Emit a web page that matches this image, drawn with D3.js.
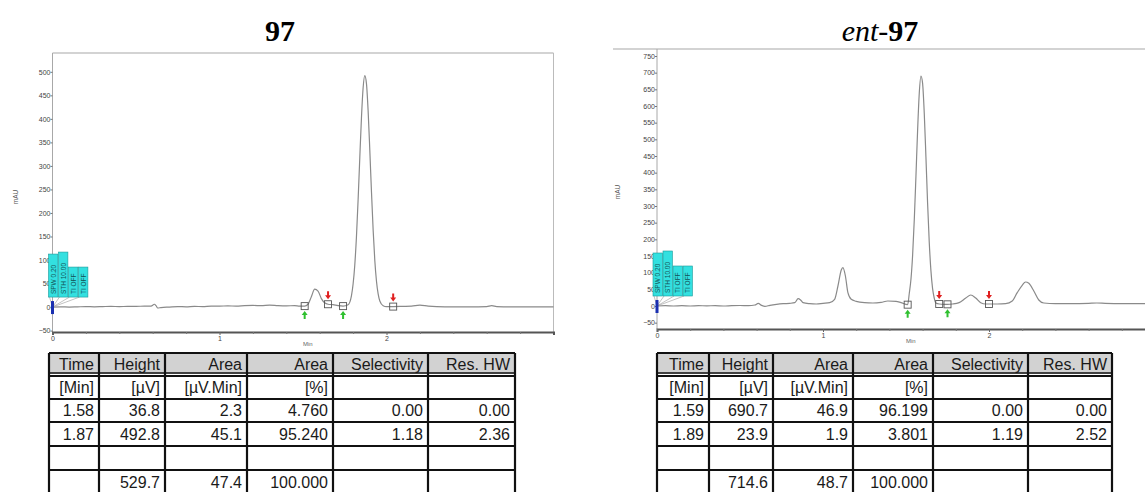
<!DOCTYPE html>
<html>
<head>
<meta charset="utf-8">
<script src="https://cdn.jsdelivr.net/npm/d3@7"></script>
<style>
  body { margin: 0; background: #fff; }
  svg { display: block; font-family: "Liberation Sans", Arial, sans-serif; }
</style>
</head>
<body>
<div id="chart"></div>
<script>
// ---- chromatogram 97 (left) ----
const timeA = [0, 0.05, 0.10, 0.15, 0.20, 0.25, 0.30, 0.35, 0.40, 0.45, 0.50, 0.55, 0.59, 0.61, 0.62, 0.63, 0.65, 0.70,
  0.75, 0.80, 0.85, 0.90, 0.95, 1.00, 1.05, 1.10, 1.15, 1.20, 1.25, 1.30, 1.35, 1.40, 1.45, 1.48, 1.51, 1.53, 1.55,
  1.57, 1.59, 1.61, 1.63, 1.65, 1.68, 1.71, 1.74, 1.77, 1.79, 1.80, 1.81, 1.82, 1.83, 1.84, 1.85, 1.86, 1.87, 1.88,
  1.89, 1.90, 1.91, 1.92, 1.93, 1.94, 1.95, 1.96, 1.98, 2.00, 2.04, 2.10, 2.15, 2.20, 2.25, 2.30, 2.40, 2.50, 2.60,
  2.63, 2.66, 2.75, 2.85, 3.00];
const signalA = [0, 0.5, 0, 0.5, 1, 0.5, 1, 1.5, 1, 1.5, 1.5, 2, 2, 6, 3, -2, -1, 0,
  1, 0.5, 1.5, 1, 2, 2, 2.5, 2, 3, 3.5, 3, 4, 3, 2.5, 3, 2, 2, 6, 22,
  38, 34, 18, 9, 6, 5, 3, 2, 5, 24, 49, 89, 149, 228, 317, 402, 466, 492, 475,
  417, 334, 245, 164, 99, 55, 28, 13, 3, 1, 1, 1.5, 2, 4, 2, 1, 0.5, 0.5, 1,
  3, 1, 0.5, 0.5, 0.5];
const yTicksA = [-50, 0, 50, 100, 150, 200, 250, 300, 350, 400, 450, 500];
const markTimesA = [1.51, 1.65, 1.74, 2.04];
const markLevelsA = [2, 6, 2, 1];
const markKindsA = ["start", "end", "start", "end"];

// ---- chromatogram ent-97 (right) ----
const timeB = [0, 0.05, 0.10, 0.15, 0.20, 0.25, 0.30, 0.35, 0.40, 0.45, 0.50, 0.55, 0.59, 0.61, 0.63, 0.65, 0.68, 0.72,
  0.76, 0.80, 0.83, 0.85, 0.865, 0.88, 0.92, 0.96, 1.00, 1.04, 1.07, 1.09, 1.11, 1.12, 1.135, 1.15, 1.17, 1.20, 1.25,
  1.30, 1.35, 1.39, 1.44, 1.47, 1.51, 1.52, 1.53, 1.54, 1.55, 1.56, 1.57, 1.58, 1.59, 1.60, 1.61, 1.62, 1.63, 1.64,
  1.65, 1.66, 1.67, 1.68, 1.70, 1.73, 1.75, 1.78, 1.82, 1.86, 1.89, 1.92, 1.95, 1.98, 2.00, 2.05, 2.10, 2.14, 2.17,
  2.20, 2.22, 2.24, 2.27, 2.30, 2.33, 2.40, 2.50, 2.60, 2.65, 2.70, 2.80, 2.90, 3.00];
const signalB = [0, 1, 0, 1, 0, 1, 0.5, 1, 0, 1, 1.5, 1, 3, 8, 2, -1, 2, 5,
  7, 8, 10, 22, 18, 10, 7, 6, 8, 10, 20, 60, 108, 115, 90, 40, 20, 14, 10,
  9, 11, 15, 14, 10, 4, 39, 81, 154, 260, 391, 528, 639, 690, 668, 578, 448, 310, 192,
  107, 53, 24, 9, 6, 5, 5, 6, 10, 24, 33, 24, 10, 6, 6, 6, 7, 15, 40,
  62, 72, 68, 45, 18, 9, 7, 7, 8, 9, 8, 7, 7, 7];
const yTicksB = [-50, 0, 50, 100, 150, 200, 250, 300, 350, 400, 450, 500, 550, 600, 650, 700, 750];
const markTimesB = [1.51, 1.70, 1.75, 2.00];
const markLevelsB = [4, 6, 5, 6];
const markKindsB = ["start", "end", "start", "end"];

const xTicks = [0, 1, 2];
const xMinorTicks = [0.2, 0.4, 0.6, 0.8, 1.2, 1.4, 1.6, 1.8, 2.2, 2.4, 2.6, 2.8];
const flagLabels = ["SPW 0.20", "STH 10.00", "TI OFF", "TI OFF"];
const flagHeights = [43, 45, 30, 30];

// ---- result tables ----
const tableHead = ["Time", "Height", "Area", "Area", "Selectivity", "Res. HW"];
const tableUnits = ["[Min]", "[µV]", "[µV.Min]", "[%]", "", ""];
const rowsA = [
  ["1.58", "36.8", "2.3", "4.760", "0.00", "0.00"],
  ["1.87", "492.8", "45.1", "95.240", "1.18", "2.36"],
  ["", "", "", "", "", ""],
  ["", "529.7", "47.4", "100.000", "", ""]
];
const rowsB = [
  ["1.59", "690.7", "46.9", "96.199", "0.00", "0.00"],
  ["1.89", "23.9", "1.9", "3.801", "1.19", "2.52"],
  ["", "", "", "", "", ""],
  ["", "714.6", "48.7", "100.000", "", ""]
];

const W = 1145, H = 492;
const svg = d3.select("#chart").append("svg")
  .attr("width", W)
  .attr("height", H);

const drawPanel = (p) => {
  const x = d3.scaleLinear().domain([0, 3]).range([p.left, p.right]);
  const y = d3.scaleLinear().domain(p.yDomain).range([p.bottom, p.top]);
  const g = svg.append("g");

  // frame
  g.append("line").attr("x1", p.topFrom).attr("x2", Math.min(p.right, W)).attr("y1", p.top).attr("y2", p.top)
    .attr("stroke", "#a8a8a8").attr("stroke-width", 1.2);
  g.append("line").attr("x1", p.left).attr("x2", p.left).attr("y1", p.top).attr("y2", p.bottom)
    .attr("stroke", "#a8a8a8").attr("stroke-width", 1);
  if (p.right < W) {
    g.append("line").attr("x1", p.right).attr("x2", p.right).attr("y1", p.top).attr("y2", p.bottom)
      .attr("stroke", "#bbb").attr("stroke-width", 1);
  }

  // y axis
  const ya = g.append("g").attr("transform", `translate(${p.left},0)`)
    .call(d3.axisLeft(y).tickValues(p.yTicks).tickSize(2).tickPadding(0));
  ya.select(".domain").remove();
  ya.selectAll("line").attr("stroke", "#777");
  ya.selectAll("text").attr("font-size", 7).attr("fill", "#444").attr("font-family", "Liberation Sans, Arial");

  // x axis
  const xa = g.append("g").attr("transform", `translate(0,${p.bottom})`)
    .call(d3.axisBottom(x).tickValues(xTicks).tickSize(3).tickPadding(1).tickFormat(d3.format("d")));
  xa.select(".domain").attr("stroke", "#555").attr("stroke-width", 2);
  xa.selectAll("line").attr("stroke", "#666");
  xa.selectAll("text").attr("font-size", 7).attr("fill", "#444").attr("font-family", "Liberation Sans, Arial");
  const xm = g.append("g").attr("transform", `translate(0,${p.bottom})`)
    .call(d3.axisBottom(x).tickValues(xMinorTicks).tickSize(2).tickFormat(""));
  xm.select(".domain").remove();
  xm.selectAll("line").attr("stroke", "#777");

  g.append("text").attr("x", x(1.5)).attr("y", p.bottom + 14)
    .attr("font-size", 6).attr("fill", "#666").text("Min");
  g.append("text")
    .attr("transform", `translate(${p.labelX},${p.labelY}) rotate(-90)`)
    .attr("text-anchor", "middle").attr("font-size", 6.5).attr("fill", "#555").text("mAU");

  // trace
  const line = d3.line().x(d => x(d[0])).y(d => y(d[1])).curve(d3.curveMonotoneX);
  g.append("path").datum(d3.zip(p.time, p.signal))
    .attr("d", line).attr("fill", "none")
    .attr("stroke", "#8a8a8a").attr("stroke-width", 1.2);

  // integration markers
  p.markTimes.forEach((t, i) => {
    const mx = x(t), my = y(p.markLevels[i]);
    g.append("rect").attr("x", mx - 3.5).attr("y", my - 3.5).attr("width", 7).attr("height", 7)
      .attr("fill", "none").attr("stroke", "#555").attr("stroke-width", 0.9);
    if (p.markKinds[i] === "start") {
      g.append("path")
        .attr("d", `M${mx},${my + 5} L${mx - 3},${my + 9} L${mx - 1},${my + 9} L${mx - 1},${my + 13} L${mx + 1},${my + 13} L${mx + 1},${my + 9} L${mx + 3},${my + 9} Z`)
        .attr("fill", "#2fc02f");
    } else {
      g.append("path")
        .attr("d", `M${mx},${my - 5} L${mx - 3},${my - 9} L${mx - 1},${my - 9} L${mx - 1},${my - 13} L${mx + 1},${my - 13} L${mx + 1},${my - 9} L${mx + 3},${my - 9} Z`)
        .attr("fill", "#e02020");
    }
  });

  // parameter flags at the start of the run
  const ox = x(0), oy = y(0);
  flagLabels.forEach((lab, i) => {
    const bx = ox - 4 + i * 10, bb = oy - 10, bh = flagHeights[i];
    g.append("line").attr("x1", bx + 1).attr("y1", bb).attr("x2", ox).attr("y2", oy)
      .attr("stroke", "#999").attr("stroke-width", 0.6);
    g.append("rect").attr("x", bx).attr("y", bb - bh).attr("width", 9.4).attr("height", bh)
      .attr("fill", "#33e0e0").attr("stroke", "#1a9a9a").attr("stroke-width", 0.6);
    g.append("text")
      .attr("transform", `translate(${bx + 7.2},${bb - 3}) rotate(-90)`)
      .attr("font-size", 6.5).attr("fill", "#135356").text(lab);
  });
  g.append("rect").attr("x", ox - 1.5).attr("y", oy - 6).attr("width", 3).attr("height", 13)
    .attr("fill", "#1a2fb0");

  // title
  const title = g.append("text").attr("x", p.titleX).attr("y", 41)
    .attr("text-anchor", "middle").attr("font-family", "Liberation Serif, Times New Roman, serif")
    .attr("font-size", 30).attr("fill", "#000");
  if (p.titlePrefix) {
    title.append("tspan").attr("font-style", "italic").text(p.titlePrefix);
  }
  title.append("tspan").attr("font-weight", "bold").text(p.titleMain);
};

const rowEdges = [353, 376, 399, 422, 446, 470, 494];

const drawTable = (cols, rows) => {
  const g = svg.append("g");
  const all = [tableHead, tableUnits, ...rows];
  g.append("rect").attr("x", cols[0]).attr("y", rowEdges[0])
    .attr("width", cols[cols.length - 1] - cols[0]).attr("height", rowEdges[1] - rowEdges[0])
    .attr("fill", "#d2d2d2");
  // horizontal rules
  rowEdges.forEach((ry, i) => {
    g.append("line").attr("x1", cols[0]).attr("x2", cols[cols.length - 1]).attr("y1", ry).attr("y2", ry)
      .attr("stroke", "#111").attr("stroke-width", 2);
    if (i === 1) {
      g.append("line").attr("x1", cols[0]).attr("x2", cols[cols.length - 1]).attr("y1", ry - 3).attr("y2", ry - 3)
        .attr("stroke", "#111").attr("stroke-width", 1.5);
      g.append("line").attr("x1", cols[0]).attr("x2", cols[cols.length - 1]).attr("y1", ry - 1.5).attr("y2", ry - 1.5)
        .attr("stroke", "#fff").attr("stroke-width", 1);
    }
  });
  cols.forEach(cx => {
    g.append("line").attr("x1", cx).attr("x2", cx).attr("y1", rowEdges[0]).attr("y2", rowEdges[rowEdges.length - 1])
      .attr("stroke", "#111").attr("stroke-width", 2.2);
  });
  all.forEach((row, r) => {
    row.forEach((txt, c) => {
      if (!txt) return;
      g.append("text").attr("x", cols[c + 1] - 5).attr("y", rowEdges[r + 1] - 6)
        .attr("text-anchor", "end").attr("font-size", 16).attr("fill", "#1a1a1a").text(txt);
    });
  });
};

drawPanel({
  left: 52.5, right: 553.5, top: 53, bottom: 332, topFrom: 52.5,
  yDomain: [-53, 540], yTicks: yTicksA,
  time: timeA, signal: signalA,
  markTimes: markTimesA, markLevels: markLevelsA, markKinds: markKindsA,
  labelX: 18, labelY: 197, titleX: 280, titleMain: "97"
});
drawPanel({
  left: 657, right: 1155, top: 49, bottom: 329, topFrom: 613,
  yDomain: [-69, 771], yTicks: yTicksB,
  time: timeB, signal: signalB,
  markTimes: markTimesB, markLevels: markLevelsB, markKinds: markKindsB,
  labelX: 620, labelY: 192, titleX: 880, titlePrefix: "ent-", titleMain: "97"
});

drawTable([49, 99, 165, 247, 333, 428, 515], rowsA);
drawTable([657, 709, 773, 853, 933, 1028, 1112], rowsB);
</script>
</body>
</html>
